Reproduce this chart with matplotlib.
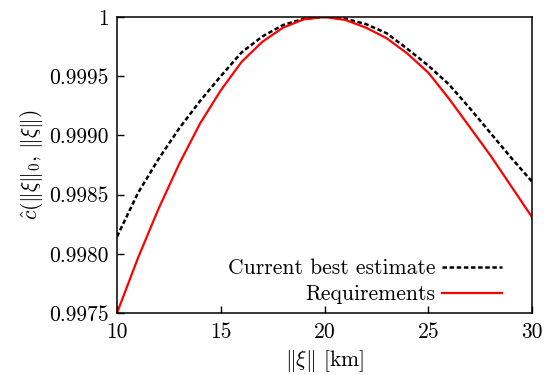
import numpy as np
import matplotlib
matplotlib.use("Agg")
import matplotlib.pyplot as plt

plt.rcParams['font.family'] = 'serif'
plt.rcParams['font.serif'] = ['cmr10']
plt.rcParams['mathtext.fontset'] = 'cm'
plt.rcParams['axes.unicode_minus'] = False

# separation in km
dist = [10, 11, 12, 13, 14, 15, 16, 17, 18, 19, 20,
        21, 22, 23, 24, 25, 26, 27, 28, 29, 30]

# current best estimate of the correlation
c_best = [0.998145, 0.998510, 0.998800, 0.999060, 0.999290, 0.999500, 0.999700,
          0.999835, 0.999932, 0.999985, 1.000000,
          0.999985, 0.999940, 0.999862, 0.999730, 0.999590, 0.999430,
          0.999230, 0.999020, 0.998810, 0.998610]

# requirement curve
c_req = [0.997500, 0.997960, 0.998380, 0.998760, 0.999100, 0.999380, 0.999620,
         0.999790, 0.999910, 0.999980, 1.000000,
         0.999975, 0.999910, 0.999820, 0.999690, 0.999530, 0.999310,
         0.999070, 0.998830, 0.998570, 0.998310]

xticks = [10, 15, 20, 25, 30]
yticks = [0.9975, 0.9980, 0.9985, 0.9990, 0.9995, 1.0]
ytick_labels = ['0.9975', '0.9980', '0.9985', '0.9990', '0.9995', '1']

fig = plt.figure(figsize=(5.54, 3.75), dpi=100)
ax = fig.add_axes([0.2112, 0.1653, 0.7491, 0.7894])

ax.plot(dist, c_best, color='black', lw=1.8, linestyle=(0, (1.8, 1.05)),
        label='Current best estimate')
ax.plot(dist, c_req, color='red', lw=1.6, label='Requirements')

ax.set_xlim(10, 30)
ax.set_ylim(0.9975, 1.0)
ax.set_xticks(xticks)
ax.set_xticklabels([str(t) for t in xticks])
ax.set_yticks(yticks)
ax.set_yticklabels(ytick_labels)
ax.tick_params(direction='in', length=5, width=1, labelsize=15.5,
               top=False, right=False)
ax.tick_params(axis='x', pad=7)
ax.tick_params(axis='y', pad=6)
for s in ax.spines.values():
    s.set_linewidth(1.1)

ax.set_xlabel(r'$\|\xi\|$ [km]', fontsize=15.5, labelpad=4)
ax.set_ylabel(r'$\hat{c}(\|\xi\|_0,\,\|\xi\|)$', fontsize=15.5, labelpad=3)

ax.legend(loc='lower right', frameon=False, fontsize=15.5, markerfirst=False,
          handlelength=2.8, handletextpad=0.3, labelspacing=0.3,
          borderaxespad=0.0, bbox_to_anchor=(0.948, 0.0))

fig.savefig('out.png', dpi=100)
